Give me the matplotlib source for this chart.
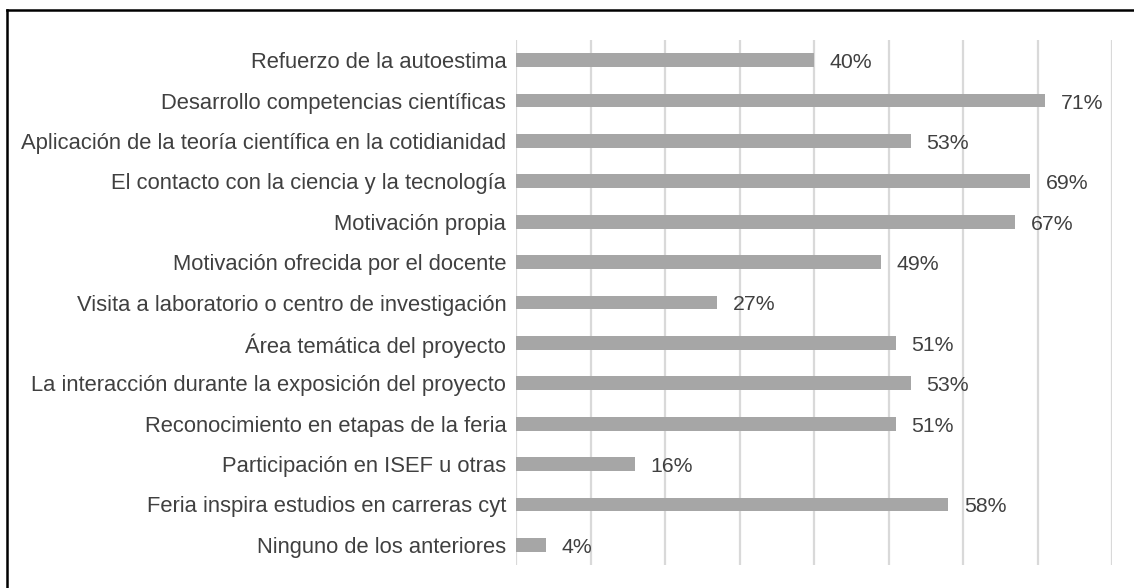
import matplotlib
matplotlib.use("Agg")
import matplotlib.pyplot as plt
from matplotlib.lines import Line2D

# ---- data -----------------------------------------------------------------
categorias = [
    "Refuerzo de la autoestima",
    "Desarrollo competencias científicas",
    "Aplicación de la teoría científica en la cotidianidad",
    "El contacto con la ciencia y la tecnología",
    "Motivación propia",
    "Motivación ofrecida por el docente",
    "Visita a laboratorio o centro de investigación",
    "Área temática del proyecto",
    "La interacción durante la exposición del proyecto",
    "Reconocimiento en etapas de la feria",
    "Participación en ISEF u otras",
    "Feria inspira estudios en carreras cyt",
    "Ninguno de los anteriores",
]
porcentajes = [40, 71, 53, 69, 67, 49, 27, 51, 53, 51, 16, 58, 4]
ticks_x = [0, 10, 20, 30, 40, 50, 60, 70, 80]

plt.rcParams["font.family"] = ["Liberation Sans", "DejaVu Sans"]
TXT = "#404040"

fig = plt.figure(figsize=(11.34, 5.88), dpi=100)
ax = fig.add_axes([516 / 1134, 1 - 565 / 588, (1112 - 516) / 1134, (565 - 40) / 588])

y = list(range(len(categorias)))
ax.barh(y, porcentajes, height=0.34, color="#a6a6a6", zorder=2)
for yi, v in zip(y, porcentajes):
    ax.text(v + 2.1, yi + 0.06, f"{v}%", va="center", ha="left",
            fontsize=15.3, color=TXT)

ax.set_xlim(0, 80)
ax.set_ylim(len(categorias) - 0.5, -0.5)
ax.set_xticks(ticks_x)
ax.set_xticklabels([])
ax.tick_params(axis="x", length=0)
ax.set_yticks(y)
ax.set_yticklabels(categorias, fontsize=15.8, color=TXT)
ax.tick_params(axis="y", length=0, pad=7)
ax.grid(axis="x", color="#d9d9d9", lw=1.6, zorder=0)
for s in ax.spines.values():
    s.set_visible(False)

# border (only top and left edges visible in the original crop)
fig.add_artist(Line2D([7 / 1134, 1], [1 - 10 / 588] * 2, color="black", lw=1.8,
                      transform=fig.transFigure))
fig.add_artist(Line2D([7 / 1134] * 2, [0, 1 - 10 / 588], color="black", lw=1.8,
                      transform=fig.transFigure))

fig.savefig("out.png", dpi=100)
